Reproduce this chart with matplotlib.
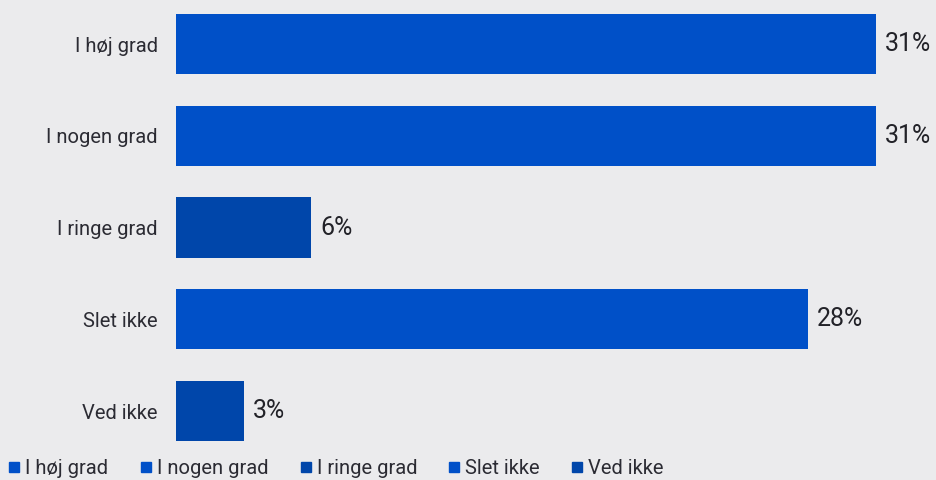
import matplotlib
matplotlib.use("Agg")
import matplotlib.pyplot as plt
from matplotlib.lines import Line2D

categories = ["I høj grad", "I nogen grad", "I ringe grad", "Slet ikke", "Ved ikke"]
values = [31, 31, 6, 28, 3]
labels = ["31%", "31%", "6%", "28%", "3%"]
colors = ["#0050C8", "#0050C8", "#0046AA", "#0050C8", "#0046AA"]

bg = "#EBEBED"
txt = "#2B2B33"
plt.rcParams["font.family"] = ["Roboto", "DejaVu Sans"]

fig = plt.figure(figsize=(9.36, 4.8), dpi=100, facecolor=bg)
ax = fig.add_axes([176/936, 1-445/480, (936-176)/936, 445/480])
ax.set_facecolor(bg)
y = list(range(len(categories)))
ax.barh(y, values, height=0.655, color=colors)
ax.set_ylim(4.37, -0.48)
ax.set_xlim(0, 760/22.58)
for yi, v, l in zip(y, values, labels):
    ax.text(v + 0.4, yi, l, va="center", ha="left", fontsize=18, color="#222228")
ax.set_yticks(y)
ax.set_yticklabels(categories, fontsize=14.5, color=txt)
ax.tick_params(axis="y", length=0, pad=13)
ax.set_xticks([])
for s in ax.spines.values():
    s.set_visible(False)

handles = [Line2D([], [], marker="s", linestyle="none", markersize=7.5, color=c) for c in colors]
fig.legend(handles, categories, loc="lower left", bbox_to_anchor=(-0.004, -0.022), ncol=5,
           frameon=False, prop={"size": 14.5}, handletextpad=0.25,
           columnspacing=1.55, handlelength=0.6, labelcolor=txt, borderaxespad=0.2)
fig.savefig("out.png", dpi=100, facecolor=bg)
